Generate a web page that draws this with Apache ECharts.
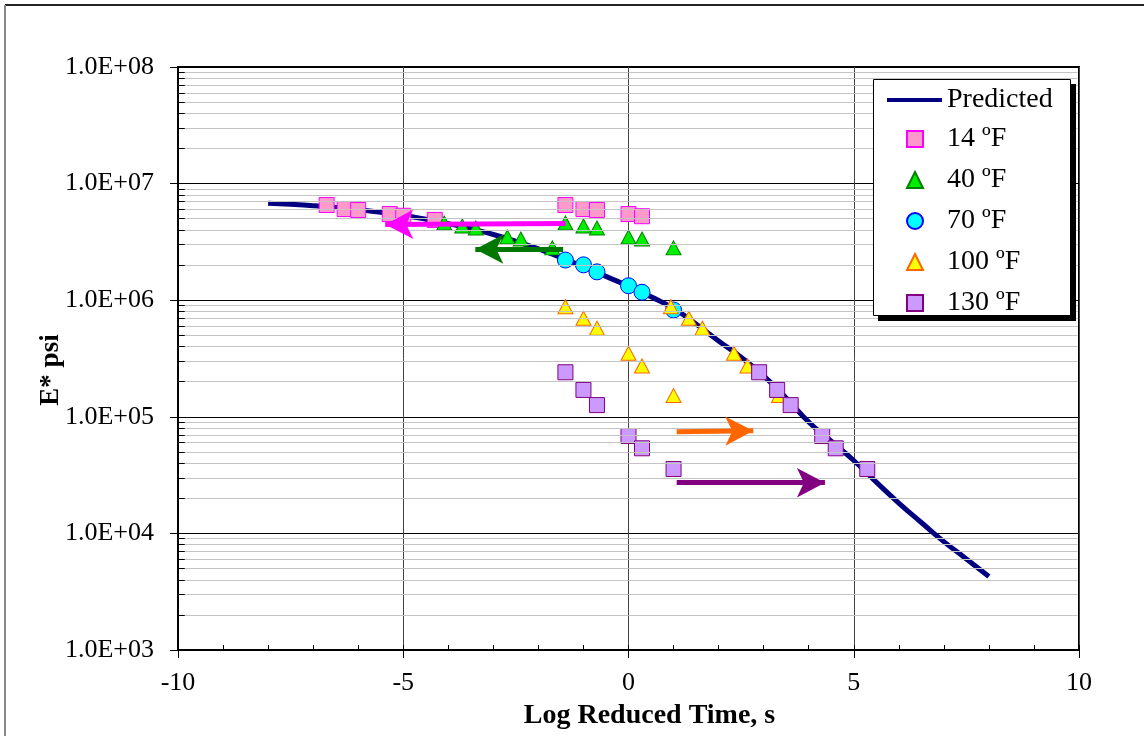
<!DOCTYPE html>
<html>
<head>
<meta charset="utf-8">
<title>E* master curve</title>
<script src="https://cdn.jsdelivr.net/npm/echarts@6/dist/echarts.min.js"></script>
<style>
  html, body { margin: 0; padding: 0; background: #fff; }
  #chart { width: 1144px; height: 736px; }
</style>
</head>
<body>
<div id="chart"></div>
<script>
// predicted master curve: log reduced time (s) and E* (psi)
var curveTime = [-8, -7.5, -7, -6.5, -6, -5.5, -5, -4.5, -4, -3.5, -3, -2.5, -2, -1.5, -1, -0.5,
  0, 0.5, 1, 1.5, 2, 2.5, 3, 3.5, 4, 4.5, 5, 5.5, 6, 6.5, 7, 7.5, 8];
var curveE = [6.79e6, 6.64e6, 6.46e6, 6.24e6, 5.98e6, 5.69e6, 5.35e6, 4.95e6, 4.54e6, 4.10e6,
  3.66e6, 3.20e6, 2.75e6, 2.32e6, 1.94e6, 1.60e6, 1.32e6, 1.07e6, 8.51e5, 6.24e5, 4.47e5,
  3.24e5, 2.24e5, 1.45e5, 9.02e4, 6.17e4, 4.22e4, 2.75e4, 1.82e4, 1.24e4, 8.51e3, 6.03e3, 4.27e3];

// measured points (log time at test frequency) and shifted points
var time14 = [-1.4, -1, -0.7, 0, 0.3];
var e14 = [6.55e6, 6.05e6, 5.94e6, 5.48e6, 5.25e6];
var shift14 = [-6.7, -6.3, -6.0, -5.3, -5.0, -4.3];
var eShift14 = [6.55e6, 6.05e6, 5.94e6, 5.48e6, 5.30e6, 4.88e6];

var testTime = [-1.4, -1, -0.7, 0, 0.3, 1];

var e40 = [4.59e6, 4.33e6, 4.16e6, 3.48e6, 3.35e6, 2.81e6];
var shift40 = [-4.09, -3.69, -3.39, -2.69, -2.39, -1.69];

var e70 = [2.21e6, 2.01e6, 1.75e6, 1.33e6, 1.17e6, 8.24e5];

var e100 = [8.8e5, 7.0e5, 5.74e5, 3.51e5, 2.73e5, 1.52e5];
var shift100 = [0.94, 1.34, 1.64, 2.34, 2.64, 3.34];

var e130 = [2.41e5, 1.70e5, 1.26e5, 6.84e4, 5.37e4, 3.57e4];
var shift130 = [2.9, 3.3, 3.6, 4.3, 4.6, 5.3];

// shift arrows [from, to]
var arrow14 = [[-1.4, 4.55e6], [-5.4, 4.45e6]];
var arrow40 = [[-1.45, 2.74e6], [-3.4, 2.74e6]];
var arrow100 = [[1.07, 7.45e4], [2.77, 7.6e4]];
var arrow130 = [[1.07, 2.72e4], [4.36, 2.72e4]];

var yTickLabels = ['1.0E+03', '1.0E+04', '1.0E+05', '1.0E+06', '1.0E+07', '1.0E+08'];
var tempNames = ["14 ºF", "40 ºF", "70 ºF", "100 ºF", "130 ºF"];

var font = "'Liberation Serif', 'Times New Roman', serif";

function pairs(xs, ys) {
  var out = [];
  for (var i = 0; i < xs.length; i++) out.push([xs[i], ys[i]]);
  return out;
}

// light minor grid lines at 2..9 of each decade, plus short inside ticks
var minorLines = [];
for (var k = 3; k < 8; k++) {
  for (var m = 2; m <= 9; m++) {
    var v = m * Math.pow(10, k);
    minorLines.push([{ coord: [-9.97, v], lineStyle: { color: "#c4c4c4", width: 1, type: "solid" } }, { coord: [9.97, v] }]);
    minorLines.push([{ coord: [-10, v], lineStyle: { color: "#000", width: 1, type: "solid" } }, { coord: [-9.85, v] }]);
  }
}

function arrowItem(a, color) {
  return [{ coord: a[0], lineStyle: { color: color, width: 5, type: "solid" }, itemStyle: { color: color } }, { coord: a[1] }];
}

function scatter(name, data, symbol, size, fill, border) {
  return {
    name: name,
    type: "scatter",
    z: 4,
    symbol: symbol,
    symbolSize: size,
    data: data,
    itemStyle: { color: fill, borderColor: border, borderWidth: 1, opacity: 1 }
  };
}

var legendText = { fontFamily: font, fontSize: 28, color: "#000", lineHeight: 26 };

var chart = echarts.init(document.getElementById("chart"));
var option = {
  animation: false,
  backgroundColor: "#fff",
  grid: {
    left: 178, right: 65, top: 67, bottom: 86,
    show: true, borderColor: "#000", borderWidth: 2, backgroundColor: "transparent"
  },
  graphic: [
    { type: "line", shape: { x1: 5, y1: 5, x2: 1144, y2: 5 }, style: { stroke: "#222", lineWidth: 2 } },
    { type: "line", shape: { x1: 5, y1: 5, x2: 5, y2: 736 }, style: { stroke: "#888", lineWidth: 2 } },
    // legend box with its drop shadow
    { type: "rect", z: 10, shape: { x: 878, y: 84, width: 198, height: 237 }, style: { fill: "#000" } },
    { type: "rect", z: 11, shape: { x: 873.5, y: 79.5, width: 197, height: 236 }, style: { fill: "#fff", stroke: "#000", lineWidth: 1 } }
  ],
  legend: [
    {
      z: 12,
      orient: "vertical",
      left: 887, top: 86,
      padding: 0,
      itemWidth: 55, itemHeight: 4,
      selectedMode: false,
      textStyle: legendText,
      data: [{ name: "Predicted", icon: "rect" }]
    },
    {
      z: 12,
      orient: "vertical",
      left: 906, top: 125,
      padding: 0,
      itemWidth: 16, itemHeight: 16, itemGap: 13,
      selectedMode: false,
      textStyle: Object.assign({ padding: [0, 0, 0, 19] }, legendText),
      data: tempNames
    }
  ],
  xAxis: [
    {
      type: "value", min: -10, max: 10, interval: 5,
      name: "Log Reduced Time, s", nameLocation: "middle", nameGap: 52,
      nameTextStyle: { fontFamily: font, fontSize: 28, fontWeight: "bold", color: "#000", padding: [0, 0, 0, 42] },
      axisLine: { show: true, onZero: false, lineStyle: { color: "#000", width: 2 } },
      axisTick: { show: true, length: 8, lineStyle: { color: "#000" } },
      axisLabel: { fontFamily: font, fontSize: 26, color: "#000", margin: 20 },
      splitLine: { show: true, lineStyle: { color: "#444", width: 1 } }
    },
    {
      type: "value", min: -10, max: 10, interval: 1, position: "bottom",
      axisLine: { show: false },
      axisTick: { show: true, inside: true, length: 5, lineStyle: { color: "#000" } },
      axisLabel: { show: false },
      splitLine: { show: false }
    }
  ],
  yAxis: {
    type: "log", logBase: 10, min: 1e3, max: 1e8,
    name: "E* psi", nameLocation: "middle", nameGap: 113, nameMoveOverlap: false,
    nameTextStyle: { fontFamily: font, fontSize: 27, fontWeight: "bold", color: "#000", padding: [0, 23, 0, 0] },
    axisLine: { show: true, onZero: false, lineStyle: { color: "#000", width: 2 } },
    axisTick: { show: true, length: 8, lineStyle: { color: "#000" } },
    axisLabel: {
      fontFamily: font, fontSize: 26, color: "#000", margin: 24,
      formatter: function (v) { return yTickLabels[Math.round(Math.log10(v)) - 3]; }
    },
    splitLine: { show: true, lineStyle: { color: "#000", width: 1 } }
  },
  series: [
    {
      name: "grid",
      type: "line",
      data: [],
      z: 1,
      silent: true,
      markLine: { silent: true, symbol: ["none", "none"], label: { show: false }, animation: false, data: minorLines }
    },
    {
      name: "Predicted",
      type: "line",
      z: 3,
      smooth: 0.5,
      showSymbol: false,
      symbol: "none",
      data: pairs(curveTime, curveE),
      lineStyle: { color: "#000080", width: 5 },
      itemStyle: { color: "#000080" }
    },
    scatter(tempNames[0], pairs(time14, e14).concat(pairs(shift14, eShift14)), "rect", 15, "#FF99CC", "#FF00FF"),
    scatter(tempNames[1], pairs(testTime, e40).concat(pairs(shift40, e40)), "triangle", [15, 14], "#00EE00", "#008000"),
    scatter(tempNames[2], pairs(testTime, e70), "circle", 16, "#00FFFF", "#0000FF"),
    scatter(tempNames[3], pairs(testTime, e100).concat(pairs(shift100, e100)), "triangle", [15, 14], "#FFFF00", "#FF6600"),
    scatter(tempNames[4], pairs(testTime, e130).concat(pairs(shift130, e130)), "rect", 15, "#CC99FF", "#800080"),
    {
      name: "arrows",
      type: "line",
      data: [],
      z: 5,
      silent: true,
      markLine: {
        silent: true,
        symbol: ["none", "arrow"],
        symbolSize: [22, 28],
        label: { show: false },
        animation: false,
        data: [
          arrowItem(arrow14, "#FF00FF"),
          arrowItem(arrow40, "#007700"),
          arrowItem(arrow100, "#FF6600"),
          arrowItem(arrow130, "#800080")
        ]
      }
    }
  ]
};
chart.setOption(option);
window.addEventListener("resize", function () {
  chart.resize();
});
</script>
</body>
</html>
